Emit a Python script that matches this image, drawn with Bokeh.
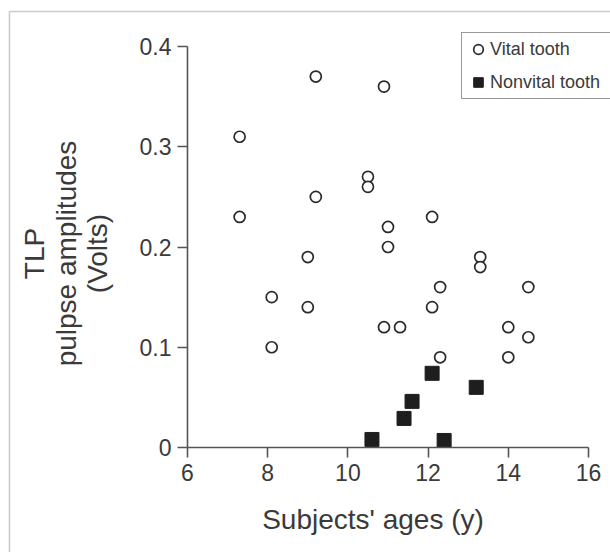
import math
from bokeh.plotting import figure
from bokeh.models import Legend, LegendItem, BoxAnnotation, Range1d, FixedTicker, Label
from bokeh.embed import file_html
from bokeh.resources import INLINE

# ---- data ----
vital_age = [7.3, 7.3, 9.2, 10.9, 8.1, 8.1, 9.0, 9.0, 9.2, 10.5, 10.5, 11.0, 11.0,
             10.9, 11.3, 12.1, 12.1, 12.3, 12.3, 13.3, 13.3, 14.0, 14.0, 14.5, 14.5]
vital_amp = [0.31, 0.23, 0.37, 0.36, 0.15, 0.10, 0.19, 0.14, 0.25, 0.27, 0.26, 0.22, 0.20,
             0.12, 0.12, 0.23, 0.14, 0.16, 0.09, 0.19, 0.18, 0.12, 0.09, 0.16, 0.11]
nonvital_age = [10.6, 11.4, 11.6, 12.1, 13.2, 12.4]
nonvital_amp = [0.008, 0.029, 0.046, 0.074, 0.060, 0.007]

x_ticks = [6, 8, 10, 12, 14, 16]
y_ticks = [0, 0.1, 0.2, 0.3, 0.4]
y_tick_labels = ["0", "0.1", "0.2", "0.3", "0.4"]
x_title = "Subjects' ages (y)"
y_title_lines = ["TLP", "pulpse amplitudes", "(Volts)"]
legend_labels = ["Vital tooth", "Nonvital tooth"]

# ---- layout (pixels) ----
W, H = 610, 552
AX_X0, AX_X1 = 187.0, 588.0     # pixel of x = 6 and x = 16
AX_Y0, AX_Y1 = 447.0, 46.0      # pixel of y = 0 and y = 0.4
sx = (AX_X1 - AX_X0) / (x_ticks[-1] - x_ticks[0])
sy = (AX_Y0 - AX_Y1) / (y_ticks[-1] - y_ticks[0])
x_start = x_ticks[0] - AX_X0 / sx
x_end = x_ticks[0] + (W - AX_X0) / sx
y_end = y_ticks[-1] + AX_Y1 / sy
y_start = y_ticks[0] - (H - AX_Y0) / sy

def dx(px):
    return x_ticks[0] + (px - AX_X0) / sx

def dy(py):
    return y_ticks[0] + (AX_Y0 - py) / sy

FONT = "Liberation Sans"
TXT = "#3a3a3a"
AX = "#555555"

p = figure(width=W, height=H, output_backend="svg", toolbar_location=None,
           x_range=Range1d(x_start, x_end), y_range=Range1d(y_start, y_end),
           min_border=0)
p.outline_line_color = None
p.grid.visible = False
p.background_fill_color = "white"
p.border_fill_color = "white"

r_v = p.scatter(vital_age, vital_amp, marker="circle", size=11, fill_color="white",
                line_color="#2a2a2a", line_width=1.7)
r_n = p.scatter(nonvital_age, nonvital_amp, marker="square", size=14, fill_color="#1e1e1e",
                line_color="#1e1e1e", line_width=1)

for ax in (p.xaxis[0], p.yaxis[0]):
    ax.axis_line_color = AX
    ax.axis_line_width = 1.6
    ax.major_tick_line_color = AX
    ax.major_tick_line_width = 1.6
    ax.major_tick_out = 10
    ax.major_tick_in = 0
    ax.minor_tick_line_color = None
    ax.major_label_text_font = FONT
    ax.major_label_text_font_size = "23px"
    ax.major_label_text_color = TXT

p.xaxis.ticker = FixedTicker(ticks=x_ticks)
p.yaxis.ticker = FixedTicker(ticks=y_ticks)
p.yaxis.major_label_overrides = {t: s for t, s in zip(y_ticks, y_tick_labels)}
p.xaxis.major_label_standoff = 6
p.yaxis.major_label_standoff = 6
p.xaxis.fixed_location = y_ticks[0]
p.yaxis.fixed_location = x_ticks[0]
p.xaxis.bounds = (x_ticks[0], x_ticks[-1])
p.yaxis.bounds = (y_ticks[0], y_ticks[-1])

# axis titles
p.add_layout(Label(x=dx(372.5), y=dy(519), text=x_title, text_align="center",
                   text_baseline="alphabetic", text_font=FONT,
                   text_font_size="28px", text_color=TXT))
mid_y = dy(253)
for line, bx in zip(y_title_lines, [34, 66, 97]):
    p.add_layout(Label(x=dx(bx), y=mid_y, text=line, angle=math.pi / 2,
                       text_align="center", text_baseline="alphabetic",
                       text_font=FONT, text_font_size="28px", text_color=TXT))

# legend
leg_h = 4 * 2 + 24 * 2 + 9
legend = Legend(items=[LegendItem(label=legend_labels[0], renderers=[r_v]),
                       LegendItem(label=legend_labels[1], renderers=[r_n])],
                location=(461, H - 34 - leg_h), orientation="vertical",
                glyph_width=24, glyph_height=24, label_height=24, label_width=150,
                spacing=9, padding=4, margin=0, label_standoff=0,
                label_text_font=FONT, label_text_font_size="18px", label_text_color=TXT,
                border_line_color="#333333", border_line_width=1.2,
                background_fill_color="white", background_fill_alpha=1)
p.add_layout(legend, "center")

# outer frame of the figure panel (cut off at right and bottom)
frame_box = BoxAnnotation(left=9, right=W + 100, top=11, bottom=H + 100,
                          left_units="canvas", right_units="canvas",
                          top_units="canvas", bottom_units="canvas",
                          fill_alpha=0, line_color="#555555", line_width=1.6)
p.add_layout(frame_box)

open("out.html", "w").write(file_html(p, INLINE))
